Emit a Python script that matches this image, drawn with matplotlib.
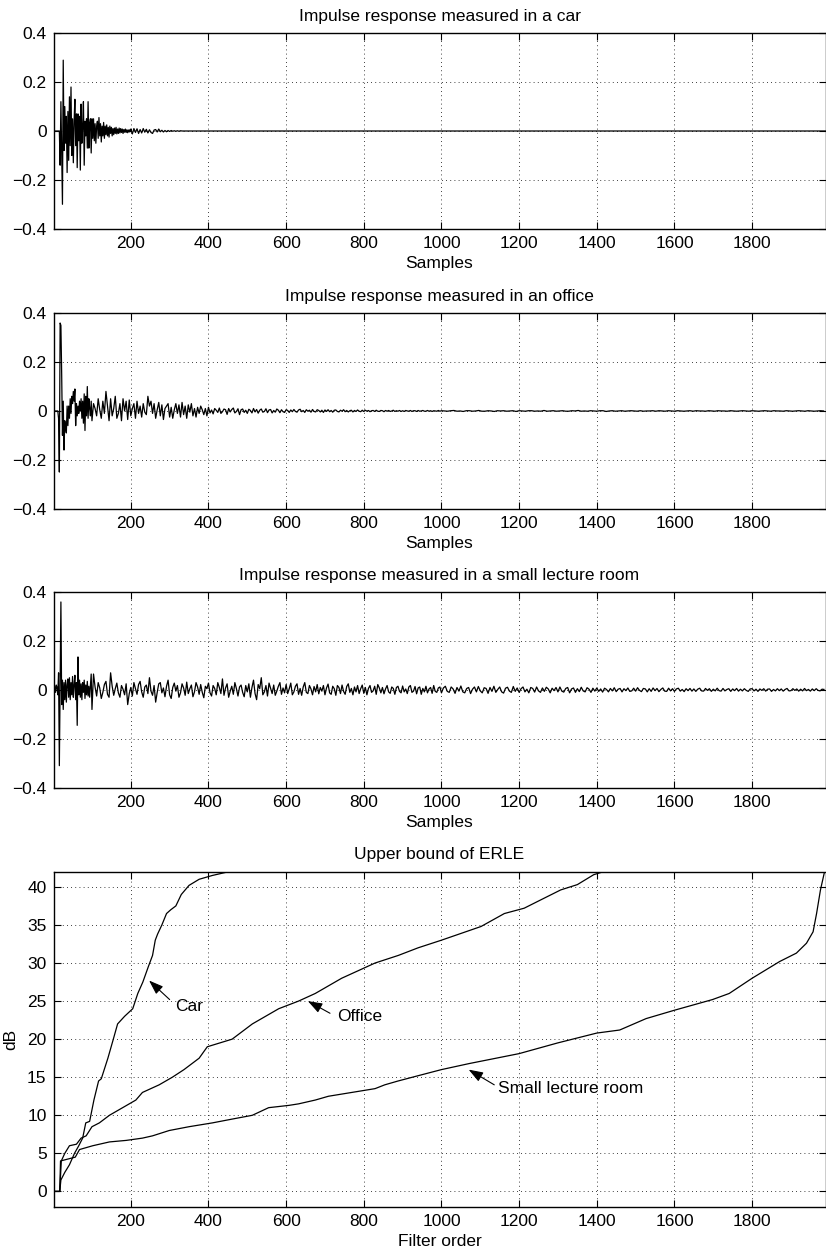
import numpy as np
import matplotlib.pyplot as plt

plt.rcParams['font.family'] = ['Liberation Sans', 'DejaVu Sans']
plt.rcParams['font.size'] = 12.5

# impulse responses, values in 1/1000
# car: every 2nd sample from 16, then every 4th from 200, then flat
car_a = [0, -140, 120, -80, -300, 290, -80, 100, -50, 60, -170, 80, -120, 140, -60, 180,
         -100, 50, -130, 40, 130, -60, 70, -150, 70, -40, 60, -160, 110, -50, 20, 120,
         -140, 40, -20, 50, -70, 120, -70, 30, 50, -90, 50, -30, 50, -40, 30, -50, 20, 40,
         -30, 55, -20, 30, -45, 20, -20, 35, -30, 20, -15, 25, -20, 15, -25, 20, -10, 15,
         -20, 10, -15, 12, -10, 15, -12, 8, -10, 12, -8, 10, -6, 8, -10, 6, -5, 8, -6, 5,
         -7, 4, -4, 6, -3]
car_b = [8, -12, 10, -6, 9, -10, 6, -8, 10, -5, 7, -8, 5, -6, -10, 4, 6, -4, 8, -3, 3,
         -4, 2, -3, 2, -2, 2, -1, 1, -1, 1, -1, 1, 0]
car_end = [0]

# office: every 2nd from 12, every 4th from 100 and from 400, every 8th from 1000
office_a = [0, -30, -250, 360, 350, 150, -100, 40, -160, -40, -70, -90, 20, -60, 20, -30,
            50, -10, 60, 30, 80, 40, 90, -60, 30, -20, 20, -10, 40, 0, 50, -30, 40, -50,
            70, -80, 60, -20, 100, -30, 50, 10, -20, 40]
office_b = [-40, 30, 10, -20, 50, 5, -30, 40, -10, 80, 20, -40, 50, -20, 10, 60, -30, -10,
            30, -40, 50, 0, 40, -35, 45,
            -20, 10, 30, -30, 40, -10, 20, -25, 30, -5, -15, 60, 20, 40, -10, 30, -30, 5,
            35, -20, 25, -35, 10, 20, 30,
            -25, 15, -30, 5, 30, -10, 25, -25, 35, -15, 20, -30, 25, -5, 30, -20, 10, -25,
            15, -10, 20, 5, -15, 10, -20]
office_c = [15, -8, 4, -12, 10, 3, -6, 12, -10, -3, 8, 5, -14, 10, -4, 6, 12, -8, -2, 9,
            -15, 5, 8, -6, 3,
            -10, 7, 2, -8, 10, -4, 6, -9, 3, 8, -5, -2, 9, -7, 4, 6, -8, 2, -5, 8, 3, -7,
            5, -3, -6,
            5, 2, -6, 4, -3, 6, -2, -5, 4, 7, -3, 2, -6, 5, -1, 3, -5, 6, -2, -4, 5, 2, -4,
            3, -6,
            4, -2, 5, -3, 2, -5, 3, 4, -2, -4, 3, -1, 5, -3, 2, -4, 1, 3, -4, 2, -2, 4, -1,
            -3, 3,
            -2, 3, -1, 2, -3, 1, 2, -2, 3, -1, -2, 2, 1, -3, 2, -1, 2, -2, 0, 3, -2, 1, -1,
            2, -2,
            1, -2, 2, 0, -1, 2, -2, 1, 1, -2, 2, -1, 0, 2, -1, -1, 2, -1, 1, -2, 1, 0, -1,
            2, -1]
office_d = [1, 0, -1, 1, 2, -1, 0, -2, 1, 1, -1, 0, 2, -1, -1, 1, 0, -2, 1, 0, 1, -1, 0,
            1, -2, 1, 0, -1, 1, 1, -1, 0, -1, 2, -1, 0, 1, -1, 0, 1, -1, -1, 1, 0, 2, -1,
            0, -1, 1, 0, -1, 1, 1, -2, 0, 1, -1, 0, 1, -1, 0, 1, 0, -1, 1, -1, 0, 0, 1, -1,
            1, 0, -1, 1, 0, -1, 1, 0, -1, 0, 1, -1, 1, 0, 0, -1, 1, 0, -1, 1, 0, 0, -1, 1,
            0, -1, 0, 1, 0, -1, 1, 0, -1, 0, 1, 0, -1, 1, 0, 0, -1, 1, 0, -1, 0, 1, 0, -1,
            1, 0, -1, 0, 1, 0]

# small lecture room: every 2nd from 2, every 4th from 100, every 5th from 1000
lecture_a = [0, 15, -10, 20, 10, -20, 70, -310, 20, 360, -60, 40, -80, 30, -40, 40, -50,
             20, 45, -30, 50, -40, 30, -20, 55, -30, 20, 60, -40, 30, -145, 135, -20, 40,
             -30, 25, -40, 30, -10, 40, -35, 20, -20, 35, -25, 15, -30, 20, 65]
lecture_b = [-80, 65, 12, -25, 30, 8, -35, -10, 22, 35, -18, -30, 70, 15, -22, 5, 28, -12,
             -30, 18, 3, -20, 25, -60, -15,
             10, -25, 30, 5, -18, 22, 35, -8, -30, 12, 20, -15, 50, -5, -22, 18, -50, -10,
             25, 30, -12, 8, -28, 15, 40,
             -20, -35, 10, 28, -5, 18, -30, -12, 25, 8, -22, 32, -15, 5, 20, -28, -8, 30,
             12, -18, 22, -10, -32, 15, 5,
             28, -12, -25, 18, 6, -20, 30, 10, -15, 45, -22, 8, 25, -30, -5, 15, -18, 30,
             5, -25, 12, 20, -10, -28, 18,
             -8, 25, -30, 10, 40, -15, -40, 22, 5, 50, -20, -8, 18, -25, 28, 6, -15, 20,
             -22, -5, 15, 30, -18, 8, -12,
             22, -15, 5, 28, -20, -8, 15, 25, -18, 6, -22, 12, 30, -10, -15, 18, 4, -20,
             14, -8, 22, -16, 10, -5, 18,
             -20, 8, 24, -12, -18, 15, 5, -22, 18, 10, -15, 20, -6, -18, 14, 25, -10, 6,
             -20, 12, -8, 18, -15, 5, 20,
             -14, 10, -20, 6, 18, -10, -4, 15, -18, 22, 8, -12, 10, -16, 4, 18, -8, -14,
             12, 6, -18, 10, 15, -6, -12,
             16, -8, 4, -15, 12, 18, -10, -5, 14, -16, 8, 12, -18, 6, -8, 15, -12, 4, 10,
             -14, 18, -6, -10, 8, 12]
lecture_c = [-12, 8, 15, -6, -10, 12, 4, -14, 10, -5, 16, -8, -12, 6, 10, -15, 3, 12, -8,
             14, -4, -12, 9, 6, -14, 10, -6, 15, -10, 2, 12, -8, -13, 7, 11, -5, -10, 14,
             -6, 8,
             -10, 5, 12, -8, 3, -12, 10, 6, -9, 12, -4, -10, 8, -6, 11, 4, -12, 7, -3, 10,
             -8, 12, -5, -9, 6, 10, -12, 4, 8, -10, 5, -7, 11, -4, -8, 9, 3, -10, 7, -5,
             8, -6, 4, -9, 7, 2, -8, 6, -4, 9, -7, 3, 6, -8, 5, -3, 8, -6, -4, 7, -5, 9,
             -2, -7, 6, 4, -8, 5, -6, 8, -3, 6, -7, 2, 8, -5, -6, 7, -4, 5,
             -6, 4, 7, -5, 2, -7, 5, -3, 6, -5, 4, -6, 3, 7, -4, -5, 6, -2, 5, -6, 3, -4,
             7, -3, -5, 6, -4, 2, 5, -6, 4, -3, 6, -5, 3, -4, 5, -2, -6, 4,
             5, -4, 3, -6, 4, -2, 5, -5, 3, 4, -6, 2, -4, 5, -3, 4, -5, 2, 6, -4, -3, 5,
             -2, 4, -5, 3, -4, 6, -3, 2, -5, 4, -3, 5, -2, -4, 3, 2]

# upper bound of ERLE (dB) against filter order
car_order = [1, 17, 20, 30, 42, 55, 66, 76, 84, 94, 105, 117, 124, 141, 155, 166, 184, 205,
             218, 231, 245, 256, 263, 269, 280, 292, 303, 316, 330, 350, 376, 410, 461]
car_erle = [0, 0, 1.5, 2.5, 3.5, 5, 6, 7, 9, 9.2, 12, 14.5, 14.8, 17.5, 20, 22, 23, 24, 26,
            27.5, 29.5, 31, 33, 33.8, 35, 36.5, 37, 37.5, 39, 40.2, 41, 41.5, 42.1]
office_order = [1, 17, 21, 30, 42, 60, 72, 85, 100, 119, 145, 179, 213, 230, 273, 307, 337,
                376, 397, 461, 513, 581, 632, 675, 743, 786, 829, 889, 940, 1000, 1102,
                1162, 1213, 1256, 1307, 1350, 1392, 1430]
office_erle = [0, 0, 4, 5, 6, 6.2, 7, 7.3, 8.5, 9, 10, 11, 12, 13, 14, 15, 16, 17.5, 19, 20,
               22, 24, 25, 26, 28, 29, 30, 31, 32, 33, 34.8, 36.5, 37.2, 38.3, 39.6, 40.3,
               41.6, 42.2]
lecture_order = [1, 17, 19, 57, 68, 102, 145, 188, 230, 256, 299, 350, 410, 461, 513, 555,
                 607, 632, 675, 709, 769, 829, 854, 888, 940, 1000, 1072, 1200, 1299, 1400,
                 1459, 1527, 1600, 1698, 1741, 1800, 1871, 1914, 1940, 1957, 1966, 1976,
                 1987]
lecture_erle = [0, 0, 4, 4.5, 5.5, 6, 6.5, 6.7, 7, 7.3, 8, 8.5, 9, 9.5, 10, 11, 11.3, 11.5,
                12, 12.5, 13, 13.5, 14, 14.5, 15.2, 16, 16.8, 18.1, 19.5, 20.8, 21.2, 22.7,
                23.8, 25.2, 26, 28, 30.2, 31.3, 32.6, 34.1, 36.5, 39.6, 42.1]

n_max = 1989
xticks = [200, 400, 600, 800, 1000, 1200, 1400, 1600, 1800]


def pieces(parts):
    # parts: (first sample, step, values in 1/1000)
    xs, ys = [], []
    for start, step, vals in parts:
        xs.append(start + step * np.arange(len(vals)))
        ys.append(np.array(vals) / 1000.0)
    return np.concatenate(xs), np.concatenate(ys)


def style(ax):
    ax.set_xlim(1, n_max)
    ax.set_xticks(xticks)
    ax.tick_params(direction='in', length=5, top=True, right=True, pad=5)
    ax.grid(True, color='k', linestyle=(0, (1, 4)), linewidth=0.6)
    for s in ax.spines.values():
        s.set_linewidth(1.0)


fig = plt.figure(figsize=(8.26, 12.56), dpi=100)

irs = [
    ('Impulse response measured in a car', [(16, 2, car_a), (200, 4, car_b), (n_max, 1, car_end)]),
    ('Impulse response measured in an office', [(12, 2, office_a), (100, 4, office_b),
                                                (400, 4, office_c), (1000, 8, office_d)]),
    ('Impulse response measured in a small lecture room', [(2, 2, lecture_a), (100, 4, lecture_b),
                                                           (1000, 5, lecture_c)]),
]
bottoms = [0.8179, 0.5950, 0.3729]
for (title, parts), b in zip(irs, bottoms):
    ax = fig.add_axes([0.0648, b, 0.9346, 0.1556])
    x, y = pieces(parts)
    if x[0] > 1:
        x = np.concatenate([[1], x])
        y = np.concatenate([[0], y])
    ax.plot(x, y, color='k', linewidth=0.9)
    style(ax)
    ax.set_ylim(-0.4, 0.4)
    ax.set_yticks([-0.4, -0.2, 0, 0.2, 0.4])
    ax.set_yticklabels(['\u22120.4', '\u22120.2', '0', '0.2', '0.4'])
    ax.set_title(title, fontsize=12.5, pad=9)
    ax.set_xlabel('Samples', labelpad=4)

ax = fig.add_axes([0.0648, 0.0393, 0.9346, 0.2667])
ax.plot(car_order, car_erle, color='k', linewidth=0.9)
ax.plot(office_order, office_erle, color='k', linewidth=0.9)
ax.plot(lecture_order, lecture_erle, color='k', linewidth=0.9)
style(ax)
ax.set_ylim(-2, 42)
ax.set_yticks([0, 5, 10, 15, 20, 25, 30, 35, 40])
ax.set_title('Upper bound of ERLE', fontsize=12.5, pad=9)
ax.set_xlabel('Filter order', labelpad=4)
ax.set_ylabel('dB', labelpad=6)

arrow = dict(arrowstyle='-|>,head_length=0.7,head_width=0.25', color='k', lw=0.8,
             shrinkA=0, shrinkB=0)
ax.annotate('', xy=(247, 27.7), xytext=(300, 25.2), arrowprops=arrow)
ax.text(315, 24.3, 'Car', ha='left', va='center')
ax.annotate('', xy=(656, 25.0), xytext=(713, 23.4), arrowprops=arrow)
ax.text(732, 23.0, 'Office', ha='left', va='center')
ax.annotate('', xy=(1070, 16.0), xytext=(1136, 14.0), arrowprops=arrow)
ax.text(1146, 13.5, 'Small lecture room', ha='left', va='center')

plt.savefig('out.png', dpi=100)
